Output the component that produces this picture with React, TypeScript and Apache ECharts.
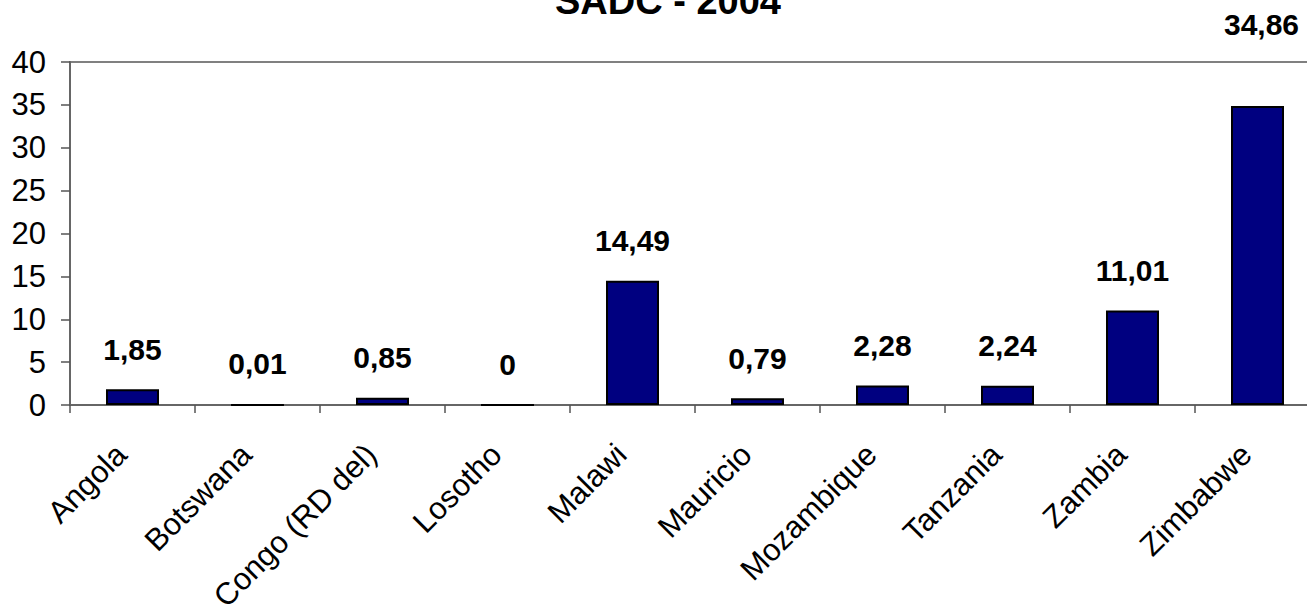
import React, { useEffect, useRef } from "react";
import * as echarts from "echarts";

const titleText = "SADC - 2004";
const countries = [
  "Angola",
  "Botswana",
  "Congo (RD del)",
  "Losotho",
  "Malawi",
  "Mauricio",
  "Mozambique",
  "Tanzania",
  "Zambia",
  "Zimbabwe",
];
const values = [1.85, 0.01, 0.85, 0, 14.49, 0.79, 2.28, 2.24, 11.01, 34.86];
const yTicks = { min: 0, max: 40, interval: 5 };

const FONT = "'Liberation Sans', Arial, sans-serif";

export default function App() {
  const ref = useRef<HTMLDivElement>(null);
  useEffect(() => {
    if (!ref.current) return;
    const chart = echarts.init(ref.current, undefined, { renderer: "svg" });
    const lastIdx = values.length - 1;
    chart.setOption({
      animation: false,
      backgroundColor: "#ffffff",
      title: {
        text: titleText,
        left: 663,
        textAlign: "center",
        top: -23,
        textStyle: { fontFamily: FONT, fontSize: 38, fontWeight: "bold", color: "#000" },
      },
      grid: {
        left: 70,
        top: 62,
        width: 1250,
        height: 343,
        show: true,
        borderColor: "#808080",
        borderWidth: 2,
        containLabel: false,
        outerBoundsMode: "none",
      },
      xAxis: {
        type: "category",
        data: countries,
        boundaryGap: true,
        axisLine: { lineStyle: { color: "#666666", width: 2 } },
        axisTick: { show: true, length: 8, lineStyle: { color: "#555555", width: 1.5 } },
        axisLabel: {
          rotate: 45,
          interval: 0,
          margin: 33,
          padding: [0, 16, 0, 0],
          fontFamily: FONT,
          fontSize: 31,
          color: "#000",
        },
      },
      yAxis: {
        type: "value",
        min: yTicks.min,
        max: yTicks.max,
        interval: yTicks.interval,
        splitLine: { show: false },
        axisLine: { show: true, lineStyle: { color: "#666666", width: 2 } },
        axisTick: { show: true, length: 9, lineStyle: { color: "#555555", width: 1.5 } },
        axisLabel: {
          margin: 24,
          fontFamily: FONT,
          fontSize: 31,
          color: "#000",
        },
      },
      series: [
        {
          type: "bar",
          barWidth: 53,
          data: values.map((v, i) =>
            i === lastIdx
              ? { value: v, label: { offset: [4, -42] } }
              : { value: v }
          ),
          itemStyle: { color: "#000080", borderColor: "#000000", borderWidth: 2 },
          label: {
            show: true,
            position: "top",
            distance: 25,
            fontFamily: FONT,
            fontSize: 30,
            fontWeight: "bold",
            color: "#000",
            formatter: (p: any) => String(p.value).replace(".", ","),
          },
        },
      ],
    });
    return () => chart.dispose();
  }, []);
  return (
    <div
      ref={ref}
      style={{ position: "fixed", left: 0, top: 0, width: 1307, height: 611, background: "#fff" }}
    />
  );
}
